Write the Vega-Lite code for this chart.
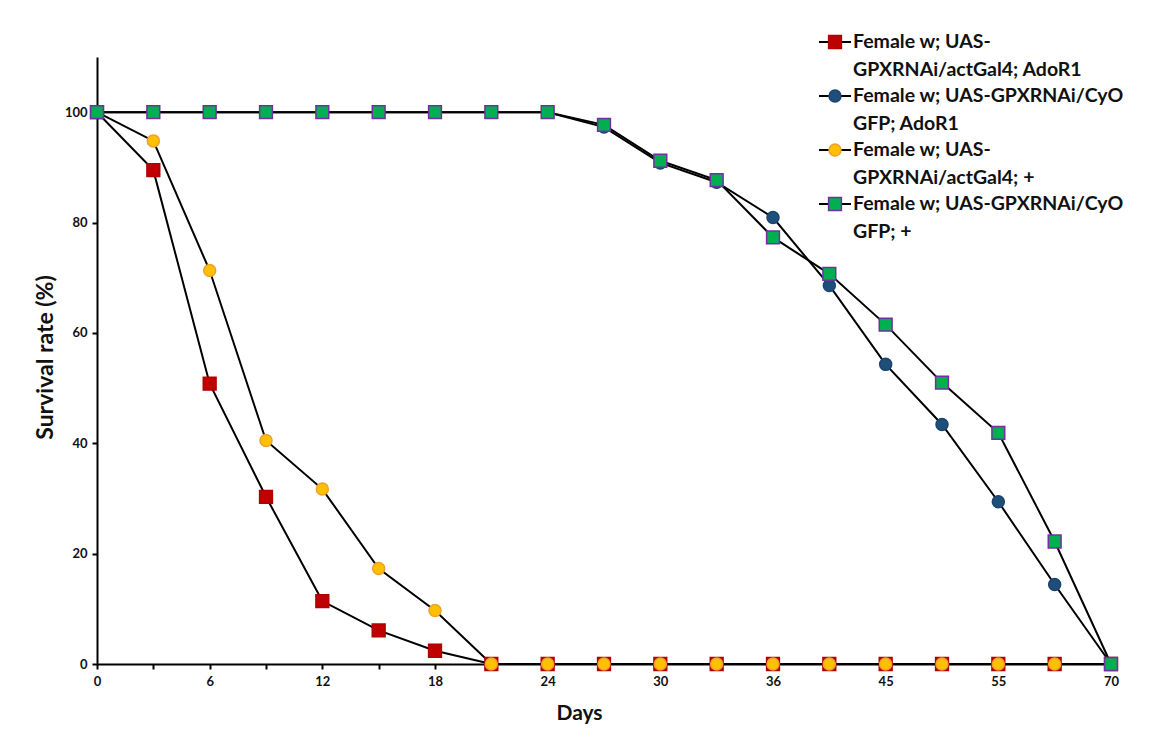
{
  "$schema": "https://vega.github.io/schema/vega-lite/v6.json",
  "width": 1014,
  "height": 607,
  "autosize": {"type": "none"},
  "padding": {"left": 97, "top": 57, "right": 50, "bottom": 85},
  "background": "white",
  "config": {
    "view": {"stroke": null},
    "font": "Lato",
    "style": {"guide-label": {"lineHeight": 27.5}}
  },
  "data": {
    "values": [
      {"series": "Female w; UAS-GPXRNAi/actGal4; AdoR1", "order": 1, "day": 0, "survival": 100},
      {"series": "Female w; UAS-GPXRNAi/actGal4; AdoR1", "order": 1, "day": 3, "survival": 89.5},
      {"series": "Female w; UAS-GPXRNAi/actGal4; AdoR1", "order": 1, "day": 6, "survival": 50.8},
      {"series": "Female w; UAS-GPXRNAi/actGal4; AdoR1", "order": 1, "day": 9, "survival": 30.3},
      {"series": "Female w; UAS-GPXRNAi/actGal4; AdoR1", "order": 1, "day": 12, "survival": 11.4},
      {"series": "Female w; UAS-GPXRNAi/actGal4; AdoR1", "order": 1, "day": 15, "survival": 6.1},
      {"series": "Female w; UAS-GPXRNAi/actGal4; AdoR1", "order": 1, "day": 18, "survival": 2.4},
      {"series": "Female w; UAS-GPXRNAi/actGal4; AdoR1", "order": 1, "day": 21, "survival": 0},
      {"series": "Female w; UAS-GPXRNAi/actGal4; AdoR1", "order": 1, "day": 24, "survival": 0},
      {"series": "Female w; UAS-GPXRNAi/actGal4; AdoR1", "order": 1, "day": 27, "survival": 0},
      {"series": "Female w; UAS-GPXRNAi/actGal4; AdoR1", "order": 1, "day": 30, "survival": 0},
      {"series": "Female w; UAS-GPXRNAi/actGal4; AdoR1", "order": 1, "day": 33, "survival": 0},
      {"series": "Female w; UAS-GPXRNAi/actGal4; AdoR1", "order": 1, "day": 36, "survival": 0},
      {"series": "Female w; UAS-GPXRNAi/actGal4; AdoR1", "order": 1, "day": 40, "survival": 0},
      {"series": "Female w; UAS-GPXRNAi/actGal4; AdoR1", "order": 1, "day": 45, "survival": 0},
      {"series": "Female w; UAS-GPXRNAi/actGal4; AdoR1", "order": 1, "day": 50, "survival": 0},
      {"series": "Female w; UAS-GPXRNAi/actGal4; AdoR1", "order": 1, "day": 55, "survival": 0},
      {"series": "Female w; UAS-GPXRNAi/actGal4; AdoR1", "order": 1, "day": 60, "survival": 0},
      {"series": "Female w; UAS-GPXRNAi/actGal4; AdoR1", "order": 1, "day": 70, "survival": 0},

      {"series": "Female w; UAS-GPXRNAi/CyO GFP; AdoR1", "order": 2, "day": 0, "survival": 100},
      {"series": "Female w; UAS-GPXRNAi/CyO GFP; AdoR1", "order": 2, "day": 3, "survival": 100},
      {"series": "Female w; UAS-GPXRNAi/CyO GFP; AdoR1", "order": 2, "day": 6, "survival": 100},
      {"series": "Female w; UAS-GPXRNAi/CyO GFP; AdoR1", "order": 2, "day": 9, "survival": 100},
      {"series": "Female w; UAS-GPXRNAi/CyO GFP; AdoR1", "order": 2, "day": 12, "survival": 100},
      {"series": "Female w; UAS-GPXRNAi/CyO GFP; AdoR1", "order": 2, "day": 15, "survival": 100},
      {"series": "Female w; UAS-GPXRNAi/CyO GFP; AdoR1", "order": 2, "day": 18, "survival": 100},
      {"series": "Female w; UAS-GPXRNAi/CyO GFP; AdoR1", "order": 2, "day": 21, "survival": 100},
      {"series": "Female w; UAS-GPXRNAi/CyO GFP; AdoR1", "order": 2, "day": 24, "survival": 100},
      {"series": "Female w; UAS-GPXRNAi/CyO GFP; AdoR1", "order": 2, "day": 27, "survival": 97.3},
      {"series": "Female w; UAS-GPXRNAi/CyO GFP; AdoR1", "order": 2, "day": 30, "survival": 90.8},
      {"series": "Female w; UAS-GPXRNAi/CyO GFP; AdoR1", "order": 2, "day": 33, "survival": 87.3},
      {"series": "Female w; UAS-GPXRNAi/CyO GFP; AdoR1", "order": 2, "day": 36, "survival": 80.9},
      {"series": "Female w; UAS-GPXRNAi/CyO GFP; AdoR1", "order": 2, "day": 40, "survival": 68.6},
      {"series": "Female w; UAS-GPXRNAi/CyO GFP; AdoR1", "order": 2, "day": 45, "survival": 54.3},
      {"series": "Female w; UAS-GPXRNAi/CyO GFP; AdoR1", "order": 2, "day": 50, "survival": 43.4},
      {"series": "Female w; UAS-GPXRNAi/CyO GFP; AdoR1", "order": 2, "day": 55, "survival": 29.4},
      {"series": "Female w; UAS-GPXRNAi/CyO GFP; AdoR1", "order": 2, "day": 60, "survival": 14.4},
      {"series": "Female w; UAS-GPXRNAi/CyO GFP; AdoR1", "order": 2, "day": 70, "survival": 0},

      {"series": "Female w; UAS-GPXRNAi/actGal4; +", "order": 3, "day": 0, "survival": 100},
      {"series": "Female w; UAS-GPXRNAi/actGal4; +", "order": 3, "day": 3, "survival": 94.8},
      {"series": "Female w; UAS-GPXRNAi/actGal4; +", "order": 3, "day": 6, "survival": 71.3},
      {"series": "Female w; UAS-GPXRNAi/actGal4; +", "order": 3, "day": 9, "survival": 40.5},
      {"series": "Female w; UAS-GPXRNAi/actGal4; +", "order": 3, "day": 12, "survival": 31.7},
      {"series": "Female w; UAS-GPXRNAi/actGal4; +", "order": 3, "day": 15, "survival": 17.3},
      {"series": "Female w; UAS-GPXRNAi/actGal4; +", "order": 3, "day": 18, "survival": 9.7},
      {"series": "Female w; UAS-GPXRNAi/actGal4; +", "order": 3, "day": 21, "survival": 0},
      {"series": "Female w; UAS-GPXRNAi/actGal4; +", "order": 3, "day": 24, "survival": 0},
      {"series": "Female w; UAS-GPXRNAi/actGal4; +", "order": 3, "day": 27, "survival": 0},
      {"series": "Female w; UAS-GPXRNAi/actGal4; +", "order": 3, "day": 30, "survival": 0},
      {"series": "Female w; UAS-GPXRNAi/actGal4; +", "order": 3, "day": 33, "survival": 0},
      {"series": "Female w; UAS-GPXRNAi/actGal4; +", "order": 3, "day": 36, "survival": 0},
      {"series": "Female w; UAS-GPXRNAi/actGal4; +", "order": 3, "day": 40, "survival": 0},
      {"series": "Female w; UAS-GPXRNAi/actGal4; +", "order": 3, "day": 45, "survival": 0},
      {"series": "Female w; UAS-GPXRNAi/actGal4; +", "order": 3, "day": 50, "survival": 0},
      {"series": "Female w; UAS-GPXRNAi/actGal4; +", "order": 3, "day": 55, "survival": 0},
      {"series": "Female w; UAS-GPXRNAi/actGal4; +", "order": 3, "day": 60, "survival": 0},
      {"series": "Female w; UAS-GPXRNAi/actGal4; +", "order": 3, "day": 70, "survival": 0},

      {"series": "Female w; UAS-GPXRNAi/CyO GFP; +", "order": 4, "day": 0, "survival": 100},
      {"series": "Female w; UAS-GPXRNAi/CyO GFP; +", "order": 4, "day": 3, "survival": 100},
      {"series": "Female w; UAS-GPXRNAi/CyO GFP; +", "order": 4, "day": 6, "survival": 100},
      {"series": "Female w; UAS-GPXRNAi/CyO GFP; +", "order": 4, "day": 9, "survival": 100},
      {"series": "Female w; UAS-GPXRNAi/CyO GFP; +", "order": 4, "day": 12, "survival": 100},
      {"series": "Female w; UAS-GPXRNAi/CyO GFP; +", "order": 4, "day": 15, "survival": 100},
      {"series": "Female w; UAS-GPXRNAi/CyO GFP; +", "order": 4, "day": 18, "survival": 100},
      {"series": "Female w; UAS-GPXRNAi/CyO GFP; +", "order": 4, "day": 21, "survival": 100},
      {"series": "Female w; UAS-GPXRNAi/CyO GFP; +", "order": 4, "day": 24, "survival": 100},
      {"series": "Female w; UAS-GPXRNAi/CyO GFP; +", "order": 4, "day": 27, "survival": 97.7},
      {"series": "Female w; UAS-GPXRNAi/CyO GFP; +", "order": 4, "day": 30, "survival": 91.2},
      {"series": "Female w; UAS-GPXRNAi/CyO GFP; +", "order": 4, "day": 33, "survival": 87.7},
      {"series": "Female w; UAS-GPXRNAi/CyO GFP; +", "order": 4, "day": 36, "survival": 77.3},
      {"series": "Female w; UAS-GPXRNAi/CyO GFP; +", "order": 4, "day": 40, "survival": 70.7},
      {"series": "Female w; UAS-GPXRNAi/CyO GFP; +", "order": 4, "day": 45, "survival": 61.5},
      {"series": "Female w; UAS-GPXRNAi/CyO GFP; +", "order": 4, "day": 50, "survival": 51.0},
      {"series": "Female w; UAS-GPXRNAi/CyO GFP; +", "order": 4, "day": 55, "survival": 41.9},
      {"series": "Female w; UAS-GPXRNAi/CyO GFP; +", "order": 4, "day": 60, "survival": 22.2},
      {"series": "Female w; UAS-GPXRNAi/CyO GFP; +", "order": 4, "day": 70, "survival": 0}
    ]
  },
  "encoding": {
    "x": {
      "field": "day",
      "type": "ordinal",
      "scale": {"type": "point", "padding": 0},
      "axis": {
        "title": "Days",
        "titleFont": "Lato",
        "titleFontSize": 21,
        "titleFontWeight": "bold",
        "titleColor": "#111",
        "titlePadding": 14,
        "titleX": 482,
        "labelAngle": 0,
        "labelFont": "Lato",
        "labelFontSize": 13,
        "labelFontWeight": "bold",
        "labelColor": "#111",
        "labelPadding": 6,
        "labelOverlap": false,
        "labelExpr": "indexof([0,6,12,18,24,30,36,45,55,70], datum.value) >= 0 ? datum.label : ''",
        "domainColor": "black",
        "domainWidth": 2,
        "tickColor": "black",
        "tickWidth": 2,
        "tickSize": 5,
        "grid": false
      }
    },
    "y": {
      "field": "survival",
      "type": "quantitative",
      "scale": {"domain": [0, 110], "nice": false},
      "axis": {
        "title": "Survival rate (%)",
        "titleFont": "Lato",
        "titleFontSize": 23,
        "titleFontWeight": "bold",
        "titleColor": "#111",
        "titlePadding": 7,
        "titleY": 300,
        "values": [0, 20, 40, 60, 80, 100],
        "labelFont": "Lato",
        "labelFontSize": 13,
        "labelFontWeight": "bold",
        "labelColor": "#111",
        "labelPadding": 5,
        "domainColor": "black",
        "domainWidth": 2,
        "tickColor": "black",
        "tickWidth": 2,
        "tickSize": 5,
        "grid": false
      }
    }
  },
  "layer": [
    {
      "mark": {"type": "line", "strokeWidth": 2},
      "encoding": {
        "color": {
          "field": "series",
          "type": "nominal",
          "scale": {
            "domain": [
              "Female w; UAS-GPXRNAi/actGal4; AdoR1",
              "Female w; UAS-GPXRNAi/CyO GFP; AdoR1",
              "Female w; UAS-GPXRNAi/actGal4; +",
              "Female w; UAS-GPXRNAi/CyO GFP; +"
            ],
            "range": ["black", "black", "black", "black"]
          },
          "legend": {
            "orient": "none",
            "legendX": 721,
            "legendY": -32,
            "padding": 0,
            "title": null,
            "symbolType": "stroke",
            "symbolSize": 1024,
            "symbolStrokeWidth": 2,
            "labelOpacity": 0,
            "labelFont": "Lato",
            "labelFontSize": 19.5,
            "labelFontWeight": "bold",
            "labelLimit": 600,
            "labelOffset": 1,
            "rowPadding": 0,
            "labelExpr": "indexof(datum.label, 'actGal4') >= 0 ? [substring(datum.label, 0, 14), substring(datum.label, 14)] : [substring(datum.label, 0, 25), substring(datum.label, 26)]"
          }
        }
      }
    },
    {
      "mark": {"type": "point", "filled": true, "size": 1024, "opacity": 1, "strokeWidth": 1.5},
      "encoding": {
        "fill": {
          "field": "series",
          "type": "nominal",
          "sort": {"field": "order", "op": "min"},
          "scale": {"range": ["#C00000", "#1F4E79", "#FFC000", "#00B050"]},
          "legend": {
            "orient": "none",
            "legendX": 721,
            "legendY": -32,
            "padding": 0,
            "title": null,
            "symbolSize": 1024,
            "symbolStrokeWidth": 1.5,
            "labelColor": "#111",
            "labelFont": "Lato",
            "labelFontSize": 19.5,
            "labelFontWeight": "bold",
            "labelLimit": 600,
            "labelOffset": 1,
            "rowPadding": 0,
            "labelExpr": "indexof(datum.label, 'actGal4') >= 0 ? [substring(datum.label, 0, 14), substring(datum.label, 14)] : [substring(datum.label, 0, 25), substring(datum.label, 26)]"
          }
        },
        "stroke": {
          "field": "series",
          "type": "nominal",
          "sort": {"field": "order", "op": "min"},
          "scale": {"range": ["#B00000", "#1B4570", "#F0A030", "#7030A0"]}
        },
        "shape": {
          "field": "series",
          "type": "nominal",
          "sort": {"field": "order", "op": "min"},
          "scale": {
            "range": [
              "M-0.4,-0.4H0.4V0.4H-0.4Z",
              "M0.375,0A0.375,0.375,0,1,1,-0.375,0A0.375,0.375,0,1,1,0.375,0Z",
              "M0.375,0A0.375,0.375,0,1,1,-0.375,0A0.375,0.375,0,1,1,0.375,0Z",
              "M-0.4,-0.4H0.4V0.4H-0.4Z"
            ]
          }
        }
      }
    }
  ]
}
